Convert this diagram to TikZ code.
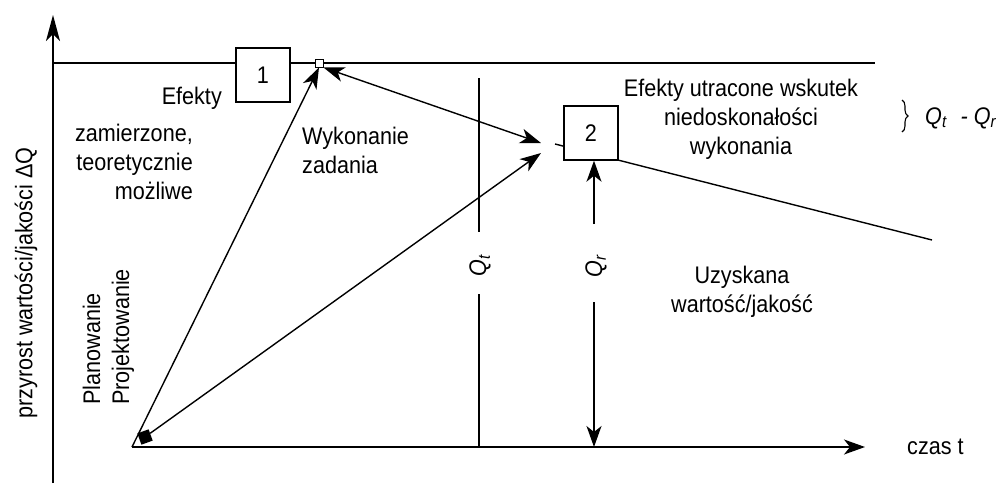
\documentclass[tikz,border=0pt]{standalone}
\usepackage{fontspec}
\setmainfont{Liberation Sans}[FakeStretch=0.9]
\usetikzlibrary{arrows.meta,decorations.pathreplacing}
\begin{document}
\begin{tikzpicture}[x=1pt,y=-1pt,
  ln/.style={line width=1.4pt},
  tip/.style={},
  arr/.style={ln,-{Stealth[length=21pt,width=15pt,inset=6pt]}},
  darr/.style={ln,{Stealth[length=21pt,width=15pt,inset=6pt]}-{Stealth[length=21pt,width=15pt,inset=6pt]}},
  txt/.style={font=\fontsize{24}{29}\selectfont, inner sep=0pt},
  numbox/.style={draw,line width=1.4pt,fill=white,minimum size=54pt,inner sep=0pt,font=\fontsize{24}{29}\selectfont},
]
\path[use as bounding box] (0,0) rectangle (997,485);

% coordinates
\coordinate (O) at (132,447);
\coordinate (yb) at (53,483);
\coordinate (yt) at (53,15);
\coordinate (tl) at (53,63);
\coordinate (tr) at (875,63);
\coordinate (xe) at (865,447);
\coordinate (t1) at (541,143);
\coordinate (t2) at (541,153);
\coordinate (ds) at (555,144);
\coordinate (de) at (932,240);
\coordinate (qt1) at (479,78);
\coordinate (qt2) at (479,232);
\coordinate (qt3) at (479,294);
\coordinate (qt4) at (479,447);
\coordinate (qr1) at (594,224);
\coordinate (qr3) at (594,302);
\coordinate (qr4) at (594,447);

% axes and main lines
\draw[ln,-{Stealth[length=26pt,width=14pt,inset=7pt]}] (yb) -- (yt);
\draw[ln] (tl) -- (tr);
\draw[arr] (O) -- (xe);
\draw[ln] (ds) -- (de);

% boxes
\node[numbox] (b1) at (263,75) {1};
\node[numbox] (b2) at (591,133) {2};
\node[draw,fill=white,line width=1pt,minimum size=8pt,inner sep=0pt] (sq) at (319,63) {};
\node[fill=black,minimum size=12pt,inner sep=0pt,rotate=20] (blk) at (145,437) {};

% arrows
\draw[arr] (O) -- (sq.south);
\draw[arr] (blk) -- (t2);
\draw[darr] (sq.south east) -- (t1);

% Q lines
\draw[ln] (qt1) -- (qt2);
\draw[ln] (qt3) -- (qt4);
\draw[arr] (qr1) -- (b2.south -| qr1);
\draw[arr] (qr3) -- (qr4);

% labels
\node[txt,rotate=90] (lqt) at (480,266) {\itshape Q\textsubscript{t}};
\node[txt,rotate=90] (lqr) at (596,266) {\itshape Q\textsubscript{r}};

\node[txt,rotate=90] (ylab) at (26,283) {przyrost wartości/jakości ΔQ};
\node[txt,rotate=90,anchor=base west] (plan) at (100,405) {Planowanie};
\node[txt,rotate=90,anchor=base west] (proj) at (129,405) {Projektowanie};

\node[txt,anchor=east] (ef) at (222,98) {Efekty};
\node[txt,anchor=east,align=right] (zam) at (193,162) {zamierzone,\\teoretycznie\\możliwe};
\node[txt,anchor=west,align=left] (wyk) at (302,150) {Wykonanie\\zadania};
\node[txt,align=center] (utr) at (741,119) {Efekty utracone wskutek\\niedoskonałości\\wykonania};
\node[txt,align=center] (uzy) at (742,292) {Uzyskana\\wartość/jakość};
\node[txt,anchor=west] (czas) at (907,447) {czas t};

\coordinate (bra) at (902,100);
\coordinate (brb) at (902,132);
\draw[line width=1.1pt,decorate,decoration={brace,amplitude=6pt}] (bra) -- (brb);
\node[txt,anchor=west] (qq) at (925,118) {\itshape Q\textsubscript{t}\,\, - Q\textsubscript{r}};
\end{tikzpicture}
\end{document}
